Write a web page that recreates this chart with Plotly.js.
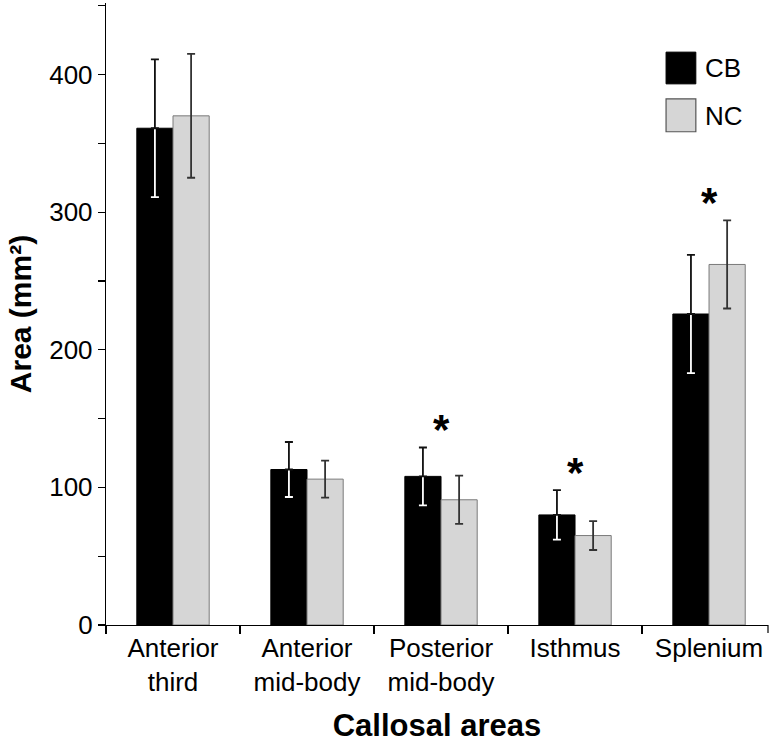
<!DOCTYPE html>
<html>
<head>
<meta charset="utf-8">
<script src="https://cdn.plot.ly/plotly-3.0.1.min.js"></script>
<style>
html,body{margin:0;padding:0;background:#fff;}
#chart{width:771px;height:744px;}
</style>
</head>
<body>
<div id="chart"></div>
<script>
// ---- data ----
var categories = ["Anterior<br>third", "Anterior<br>mid-body", "Posterior<br>mid-body", "Isthmus", "Splenium"];
var cbValues = [361, 113, 108, 80, 226];
var cbErrors = [50, 20, 21, 18, 43];
var ncValues = [370, 106, 91, 65, 262];
var ncErrors = [45, 13.5, 17.5, 10.5, 32];
var significant = [false, false, true, true, true];
var seriesNames = ["CB", "NC"];
var yTickValues = [0, 100, 200, 300, 400];

var FONT = "Liberation Sans, Arial, Helvetica, sans-serif";
var zeros = cbValues.map(function(){ return 0; });

var traces = [
  { // CB bars with white error bars (visible inside black bar)
    type: "bar", x: categories, y: cbValues, name: seriesNames[0],
    offsetgroup: "cb", showlegend: false,
    marker: {color: "#000000", line: {color: "#000000", width: 1}},
    error_y: {type: "data", array: cbErrors, visible: true, color: "#ffffff", thickness: 1.8, width: 4}
  },
  { // CB upper error bars drawn in black above the bar
    type: "bar", x: categories, y: cbValues, name: seriesNames[0] + " err",
    offsetgroup: "cb", showlegend: false, hoverinfo: "skip",
    marker: {color: "rgba(0,0,0,0)", line: {width: 0}},
    error_y: {type: "data", symmetric: false, array: cbErrors, arrayminus: zeros, visible: true, color: "#111111", thickness: 1.8, width: 4}
  },
  {
    type: "bar", x: categories, y: ncValues, name: seriesNames[1],
    offsetgroup: "nc", showlegend: false,
    marker: {color: "#d6d6d6", line: {color: "#7a7a7a", width: 1}},
    error_y: {type: "data", array: ncErrors, visible: true, color: "#333333", thickness: 1.8, width: 4}
  }
];

var annotations = [];
categories.forEach(function(c, i){
  if (significant[i]) {
    var top = Math.max(cbValues[i] + cbErrors[i], ncValues[i] + ncErrors[i]);
    annotations.push({
      x: c, y: top, xref: "x", yref: "y", text: "<b>*</b>", showarrow: false,
      yanchor: "bottom", yshift: -8,
      font: {family: FONT, size: 42, color: "#000"}
    });
  }
});
// legend labels
annotations.push({xref: "paper", yref: "paper", x: 0.902, y: 0.8955, xanchor: "left", yanchor: "middle",
  text: seriesNames[0], showarrow: false, font: {family: FONT, size: 26, color: "#000"}});
annotations.push({xref: "paper", yref: "paper", x: 0.902, y: 0.819, xanchor: "left", yanchor: "middle",
  text: seriesNames[1], showarrow: false, font: {family: FONT, size: 26, color: "#000"}});

var shapes = [
  {type: "rect", xref: "paper", yref: "paper", x0: 0.846, x1: 0.891, y0: 0.870, y1: 0.921,
   fillcolor: "#000000", line: {color: "#000000", width: 1}},
  {type: "rect", xref: "paper", yref: "paper", x0: 0.846, x1: 0.891, y0: 0.793, y1: 0.846,
   fillcolor: "#d6d6d6", line: {color: "#555555", width: 1.2}},
  {type: "line", xref: "paper", yref: "paper", ysizemode: "pixel", yanchor: 0,
   x0: 1, x1: 1, y0: 0, y1: -8, line: {color: "#000", width: 1.2}}
];

var layout = {
  width: 771, height: 744,
  margin: {l: 106, r: 3, t: 3, b: 119},
  paper_bgcolor: "#fff", plot_bgcolor: "#fff",
  barmode: "group", bargap: 0.46, bargroupgap: 0,
  showlegend: false,
  font: {family: FONT, color: "#000"},
  xaxis: {
    type: "category", range: [-0.5, 4.44],
    showline: true, linecolor: "#000", linewidth: 1.2,
    ticks: "outside", tickson: "boundaries", ticklen: 8, tickcolor: "#000", tickwidth: 1.2,
    tickfont: {family: FONT, size: 26, color: "#000"},
    showgrid: false, zeroline: false, automargin: false,
    title: {text: "<b>Callosal areas</b>", font: {family: FONT, size: 31, color: "#000"}, standoff: 18}
  },
  yaxis: {
    range: [0, 452],
    tickvals: yTickValues,
    showline: true, linecolor: "#000", linewidth: 1.2,
    ticks: "outside", ticklen: 7, tickcolor: "#000", tickwidth: 1.2,
    minor: {dtick: 50, ticks: "outside", ticklen: 7, tickcolor: "#000", tickwidth: 1.2, showgrid: false},
    tickfont: {family: FONT, size: 26, color: "#000"},
    showgrid: false, zeroline: false, automargin: false,
    title: {text: "<b>Area (mm²)</b>", font: {family: FONT, size: 30, color: "#000"}, standoff: 8}
  },
  annotations: annotations,
  shapes: shapes
};

Plotly.newPlot("chart", traces, layout, {staticPlot: true});
</script>
</body>
</html>
